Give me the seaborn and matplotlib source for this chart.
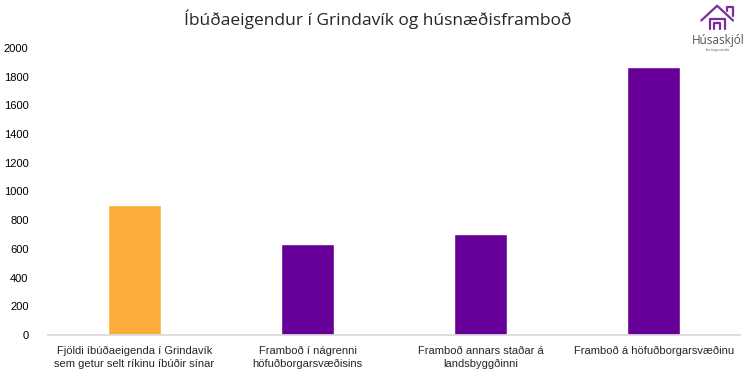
import numpy as np
import pandas as pd
import seaborn as sns
import matplotlib.pyplot as plt

# data
categories = ["Fjöldi íbúðaeigenda í Grindavík\nsem getur selt ríkinu íbúðir sínar",
              "Framboð í nágrenni\nhöfuðborgarsvæðisins",
              "Framboð annars staðar á\nlandsbyggðinni",
              "Framboð á höfuðborgarsvæðinu"]
values = [905, 635, 705, 1870]
bar_colors = ["#FBAC39", "#660099", "#660099", "#660099"]

df = pd.DataFrame({"flokkur": categories, "fjoldi": values})

sns.set_theme(style="white")
plt.rcParams['font.family'] = ['Liberation Sans', 'DejaVu Sans']

fig = plt.figure(figsize=(7.56, 3.78), dpi=100)
ax = fig.add_axes([0.0635, 0.114, 0.9155, 0.759])

sns.barplot(data=df, x="flokkur", y="fjoldi", hue="flokkur", palette=bar_colors,
            width=0.31, legend=False, ax=ax, saturation=1)

ax.set_ylim(0, 2000)
ax.set_yticks(np.arange(0, 2001, 200))
ax.set_xlim(-0.5, 3.5)
ax.set_xlabel("")
ax.set_ylabel("")
for s in ["top", "right", "left"]:
    ax.spines[s].set_visible(False)
ax.spines["bottom"].set_color("#D9D9D9")
ax.tick_params(axis="y", labelsize=8, colors="#000000", length=0, pad=14)
ax.tick_params(axis="x", length=0, pad=8)
for lbl in ax.get_yticklabels():
    lbl.set_horizontalalignment("right")
for lbl in ax.get_xticklabels():
    lbl.set_fontsize(8)
    lbl.set_linespacing(1.35)
    lbl.set_family(['Liberation Sans Narrow', 'Liberation Sans'])

fig.text(0.5, 0.95, "Íbúðaeigendur í Grindavík og húsnæðisframboð",
         ha="center", va="center", fontsize=12.5, family=['Open Sans', 'DejaVu Sans'])

# logo
purple = "#7B2D9E"
lax = fig.add_axes([0.915, 0.86, 0.07, 0.13])
lax.set_xlim(0, 10)
lax.set_ylim(0, 10)
lax.axis("off")
lax.plot([1.8, 4.8, 7.8], [6.6, 9.6, 6.6], color=purple, lw=1.6)
lax.plot([6.7, 6.7, 7.8, 7.8], [8.5, 9.3, 9.3, 7.6], color=purple, lw=1.6)
lax.plot([3.4, 3.4, 6.2, 6.2], [4.8, 6.9, 6.9, 4.8], color=purple, lw=1.6)
lax.plot([4.3, 4.3, 5.3, 5.3], [4.8, 6.1, 6.1, 4.8], color=purple, lw=1.6)
lax.text(5, 2.6, "Húsaskjól", ha="center", va="center", fontsize=8.5, color="#555555",
         family=['Open Sans', 'DejaVu Sans'])
lax.text(5, 0.6, "fasteignasala", ha="center", va="center", fontsize=3, color="#777777")

fig.savefig("out.png", dpi=100)
